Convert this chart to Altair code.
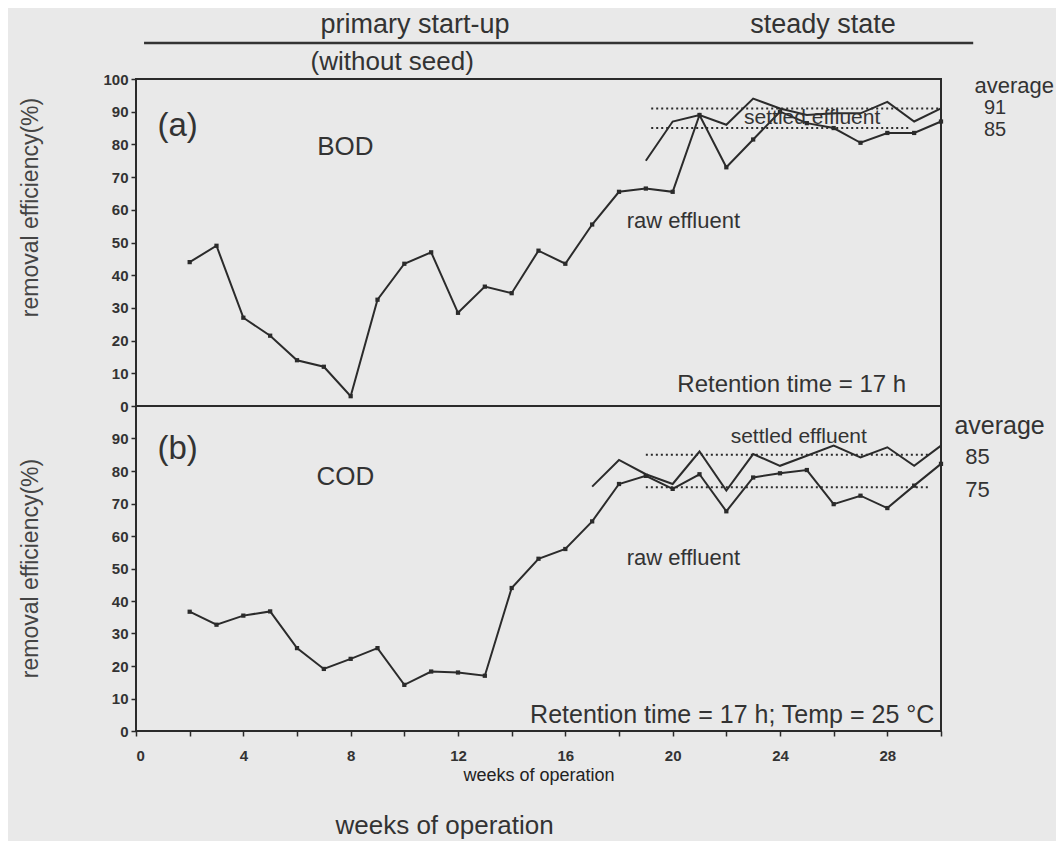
import altair as alt
import pandas as pd

# ---------------- data ----------------
bod_raw_weeks = list(range(2, 31))
bod_raw = [44, 49, 27, 21.5, 14, 12, 3, 32.5, 43.5, 47, 28.5, 36.5, 34.5, 47.5, 43.5,
           55.5, 65.5, 66.5, 65.5, 89, 73, 81.5, 90, 86.5, 85, 80.5, 83.5, 83.5, 87]
bod_set_weeks = list(range(19, 31))
bod_set = [75, 87, 89, 86, 94, 91, 89, 89.5, 89.5, 93, 87, 91]

cod_raw_weeks = list(range(2, 31))
cod_raw = [36.7, 32.7, 35.5, 36.8, 25.5, 19.1, 22.2, 25.5, 14.2, 18.3, 18, 17, 44, 53, 56,
           64.5, 76, 78.5, 74.5, 79, 67.6, 78, 79.3, 80.3, 69.8, 72.4, 68.6, 75.5, 82.2]
cod_set_weeks = list(range(17, 31))
cod_set = [75.2, 83.4, 79, 76, 86, 74, 85.2, 81.6, 84.7, 87.8, 84.2, 87.3, 81.6, 87.8]

bod_avg = [91, 85]
bod_avg_from = [19.2, 19.2]
bod_avg_to = [30, 28.8]
cod_avg = [85, 75]
cod_avg_from = [19, 19]
cod_avg_to = [29.6, 29.6]

FONT = "Liberation Sans"
INK = "#2b2b2b"
BG = "#e9e9e9"

xscale = alt.Scale(domain=[0, 30], nice=False, zero=False)
yscale = alt.Scale(domain=[0, 100], nice=False, zero=False)

def yaxis(values, title_y):
    return alt.Axis(values=values, grid=False, domain=False, tickColor=INK, tickSize=5,
                    tickWidth=1.5, labelFont=FONT, labelFontSize=15, labelFontWeight="bold",
                    labelColor="#333", labelPadding=3, title="removal efficiency(%)",
                    titleFont=FONT, titleFontSize=23, titleFontWeight="normal",
                    titleColor="#444", titleX=-94, titleY=title_y)

def panel(raw_w, raw_v, set_w, set_v, avg_v, avg_from, avg_to, texts, xenc, yenc):
    raw_df = pd.DataFrame({"x": raw_w, "y": raw_v})
    set_df = pd.DataFrame({"x": set_w, "y": set_v})
    avg_df = pd.DataFrame({"x": avg_from, "x2": avg_to, "y": avg_v})
    layers = [
        alt.Chart(raw_df).mark_line(color=INK, strokeWidth=2).encode(x=xenc, y=yenc),
        alt.Chart(raw_df).mark_point(shape="square", filled=True, color=INK, size=18, opacity=1).encode(x=xenc, y=yenc),
        alt.Chart(set_df).mark_line(color=INK, strokeWidth=2).encode(x=xenc, y=yenc),
        alt.Chart(avg_df).mark_rule(color=INK, strokeWidth=2, strokeDash=[2, 3]).encode(
            x=xenc, x2="x2:Q", y=yenc),
    ]
    for (t, x, y, fs, align) in texts:
        df = pd.DataFrame({"x": [x], "y": [y], "t": [t]})
        layers.append(
            alt.Chart(df).mark_text(font=FONT, fontSize=fs, align=align, baseline="middle",
                                    color="#333").encode(x=xenc, y=yenc, text="t:N"))
    return alt.layer(*layers)

# top panel
x_top = alt.X("x:Q", scale=xscale, axis=None)
y_top = alt.Y("y:Q", scale=yscale, axis=yaxis(list(range(0, 101, 10)), 128))
top_texts = [
    ("(a)", 1.55, 85.6, 33, "center"),
    ("BOD", 7.8, 79.2, 26, "center"),
    ("settled effluent", 25.2, 88.2, 21, "center"),
    ("raw effluent", 20.4, 56.6, 22, "center"),
    ("Retention time = 17 h", 28.7, 6.4, 24, "right"),
    ("average", 31.25, 97.8, 22, "left"),
    ("91", 31.6, 91, 20, "left"),
    ("85", 31.6, 84.5, 20, "left"),
    ("primary start-up", 10.4, 116.5, 27, "center"),
    ("(without seed)", 9.55, 105.3, 26, "center"),
    ("steady state", 25.6, 116.5, 27, "center"),
]
top = panel(bod_raw_weeks, bod_raw, bod_set_weeks, bod_set, bod_avg, bod_avg_from, bod_avg_to,
            top_texts, x_top, y_top)
header_line = alt.Chart(pd.DataFrame({"x": [0.3], "x2": [31.2], "y": [111]})).mark_rule(
    color="#333", strokeWidth=2.5).encode(x=x_top, x2="x2:Q", y=y_top)
top = alt.layer(top, header_line).properties(width=805, height=327)

# bottom panel
x_bot = alt.X("x:Q", scale=xscale, axis=alt.Axis(
    values=list(range(0, 31, 2)), labelExpr="datum.value % 4 == 0 && datum.value < 30 ? datum.label : ''",
    grid=False, domain=False, tickColor=INK, tickSize=5, tickWidth=1.5,
    labelFont=FONT, labelFontSize=15, labelFontWeight="bold", labelColor="#333", labelPadding=12,
    title="weeks of operation", titleFont=FONT, titleFontSize=18, titleFontWeight="normal",
    titleColor="#222", titlePadding=3))
y_bot = alt.Y("y:Q", scale=yscale, axis=yaxis(list(range(0, 91, 10)), 162))
bot_texts = [
    ("(b)", 1.55, 86.8, 33, "center"),
    ("COD", 7.8, 78.2, 26, "center"),
    ("settled effluent", 24.7, 90.5, 21, "center"),
    ("raw effluent", 20.4, 53.2, 22, "center"),
    ("Retention time = 17 h; Temp = 25 °C", 29.75, 5.0, 25, "right"),
    ("average", 30.5, 94, 25, "left"),
    ("85", 30.9, 84.3, 22, "left"),
    ("75", 30.9, 74.2, 22, "left"),
    ("weeks of operation", 11.5, -29.3, 26, "center"),
]
bot = panel(cod_raw_weeks, cod_raw, cod_set_weeks, cod_set, cod_avg, cod_avg_from, cod_avg_to,
            bot_texts, x_bot, y_bot).properties(width=805, height=325)

chart = alt.vconcat(top, bot, spacing=0, bounds="flush").properties(
    background=BG, padding={"left": 9, "top": 2, "right": 0, "bottom": 0}
).configure_view(stroke=INK, strokeWidth=2).configure_concat(spacing=0)

chart.save("out.html", embed_options={"renderer": "svg", "actions": False})
